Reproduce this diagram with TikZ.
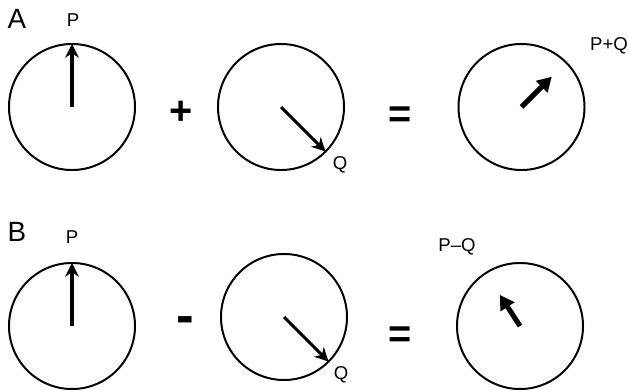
\documentclass[tikz,border=0pt]{standalone}
\usepackage{fontspec}
\setmainfont{Liberation Sans}
\usepackage{tikz}
\usetikzlibrary{arrows.meta,calc}

\begin{document}
\begin{tikzpicture}[x=0.0265cm,y=-0.0265cm,
    dial/.style={circle,draw,line width=1.5pt,minimum size=3.34cm,inner sep=0pt,outer sep=0pt},
    hand/.style={line width=2.3pt,-{Stealth[length=3.6mm,width=3.6mm,inset=1.1mm]}},
    bighand/.style={line width=3.8pt,-{Triangle[length=3.8mm,width=4.2mm]}},
    tag/.style={font=\fontsize{21}{21}\selectfont,inner sep=0pt},
    lbl/.style={font=\fontsize{14}{14}\selectfont,inner sep=0pt},
    op/.style={font=\bfseries\fontsize{30}{30}\selectfont,inner sep=0pt}]
  \useasboundingbox (0,0) rectangle (628,391);
  % row A: P + Q
  \node[tag] (tagA) at (17,19) {A};
  \node[dial] (dA1) at (72,107) {};
  \node[dial] (dA2) at (281,107) {};
  \node[dial] (dA3) at (521.5,107) {};
  \node[op] (plus) at (181,113) {+};
  \node[op] (eqA) at (400,117) {=};
  \node[lbl] (pA) at (73,20) {P};
  \node[lbl] (qA) at (340,165) {Q};
  \node[lbl] (sumA) at (609,46) {P+Q};
  \draw[hand] (dA1.center) -- (dA1.north);
  \draw[hand] (dA2.center) -- (dA2.-45);
  \draw[bighand] (dA3.center) -- ($(dA3.center)!0.68!(dA3.45)$);
  % row B: P - Q
  \node[tag] (tagB) at (17,232) {B};
  \node[dial] (dB1) at (72,326) {};
  \node[dial] (dB2) at (284,317) {};
  \node[dial] (dB3) at (520,326) {};
  \node[op,font=\bfseries\fontsize{40}{40}\selectfont] (minus) at (185,325) {-};
  \node[op] (eqB) at (400,337) {=};
  \node[lbl] (pB) at (72,237) {P};
  \node[lbl] (qB) at (341,375) {Q};
  \node[lbl] (difB) at (457,247) {P–Q};
  \draw[hand] (dB1.center) -- (dB1.north);
  \draw[hand] (dB2.center) -- (dB2.-45);
  \draw[bighand] (dB3.center) -- ($(dB3.center)!0.59!(dB3.123)$);
\end{tikzpicture}
\end{document}
